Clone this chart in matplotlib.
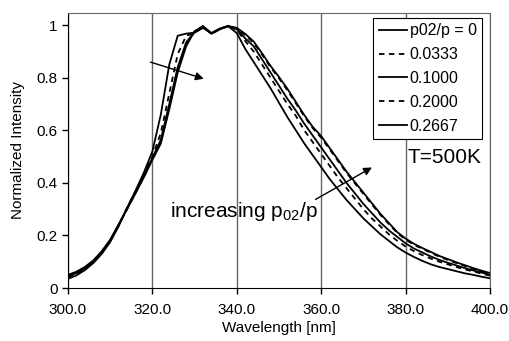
import numpy as np
import matplotlib.pyplot as plt

plt.rcParams['font.family'] = ['Liberation Sans', 'DejaVu Sans']
plt.rcParams['mathtext.default'] = 'regular'

# ----- Data ----- #
wavelength = np.arange(300, 401, 2)  # nm

ratio_labels = ["p02/p = 0", "0.0333", "0.1000", "0.2000", "0.2667"]

# p02/p = 0
int_0 = [0.035, 0.048, 0.068, 0.095, 0.130, 0.175, 0.235, 0.305, 0.370, 0.440,
         0.520, 0.660, 0.850, 0.960, 0.968, 0.972, 0.990, 0.968, 0.985, 0.996,
         0.970, 0.910, 0.860, 0.810, 0.760, 0.705, 0.650, 0.600, 0.550, 0.505,
         0.460, 0.415, 0.375, 0.335, 0.300, 0.265, 0.235, 0.205, 0.180, 0.155,
         0.135, 0.118, 0.103, 0.090, 0.080, 0.072, 0.064, 0.056, 0.050, 0.043,
         0.037]
# p02/p = 0.0333
int_1 = [0.042, 0.054, 0.072, 0.098, 0.133, 0.178, 0.238, 0.305, 0.368, 0.432,
         0.500, 0.590, 0.740, 0.890, 0.960, 0.970, 0.994, 0.970, 0.987, 0.997,
         0.982, 0.940, 0.900, 0.850, 0.800, 0.750, 0.700, 0.655, 0.600, 0.555,
         0.510, 0.465, 0.420, 0.380, 0.340, 0.300, 0.265, 0.235, 0.205, 0.180,
         0.158, 0.140, 0.125, 0.112, 0.100, 0.090, 0.080, 0.071, 0.063, 0.055,
         0.047]
# p02/p = 0.1000
int_2 = [0.045, 0.057, 0.075, 0.100, 0.135, 0.180, 0.240, 0.303, 0.365, 0.428,
         0.495, 0.565, 0.700, 0.840, 0.935, 0.975, 0.996, 0.968, 0.985, 0.998,
         0.985, 0.950, 0.920, 0.870, 0.820, 0.770, 0.720, 0.675, 0.625, 0.580,
         0.535, 0.490, 0.445, 0.400, 0.360, 0.320, 0.285, 0.250, 0.220, 0.195,
         0.170, 0.150, 0.135, 0.120, 0.107, 0.096, 0.086, 0.076, 0.067, 0.059,
         0.050]
# p02/p = 0.2000
int_3 = [0.048, 0.060, 0.078, 0.103, 0.138, 0.182, 0.240, 0.300, 0.362, 0.425,
         0.490, 0.555, 0.690, 0.830, 0.925, 0.975, 0.997, 0.966, 0.986, 0.998,
         0.988, 0.962, 0.932, 0.888, 0.840, 0.798, 0.752, 0.703, 0.653, 0.608,
         0.572, 0.528, 0.483, 0.438, 0.398, 0.358, 0.318, 0.279, 0.244, 0.210,
         0.184, 0.164, 0.149, 0.134, 0.119, 0.107, 0.095, 0.084, 0.073, 0.063,
         0.054]
# p02/p = 0.2667
int_4 = [0.050, 0.062, 0.080, 0.105, 0.140, 0.184, 0.242, 0.300, 0.360, 0.422,
         0.488, 0.550, 0.680, 0.820, 0.920, 0.978, 0.995, 0.970, 0.988, 0.996,
         0.990, 0.967, 0.938, 0.893, 0.845, 0.803, 0.758, 0.708, 0.658, 0.613,
         0.578, 0.533, 0.488, 0.443, 0.403, 0.363, 0.323, 0.283, 0.248, 0.213,
         0.188, 0.168, 0.152, 0.137, 0.122, 0.110, 0.098, 0.087, 0.076, 0.066,
         0.057]

curves = [int_0, int_1, int_2, int_3, int_4]
styles = ["-", (0, (3, 2.5)), "-", (0, (3, 2.5)), "-"]

# ----- Plot ----- #
fig = plt.figure(figsize=(5.1, 3.41), dpi=100)
ax = fig.add_axes([0.1333, 0.1554, 0.8275, 0.8076])

for vals, ls, lab in zip(curves, styles, ratio_labels):
    ax.plot(wavelength, vals, color="black", lw=1.3, ls=ls, label=lab)

ax.set_xlim(300, 400)
ax.set_ylim(0, 1.048)
ax.set_xticks([300, 320, 340, 360, 380, 400])
ax.set_xticklabels(["300.0", "320.0", "340.0", "360.0", "380.0", "400.0"])
ax.set_yticks([0, 0.2, 0.4, 0.6, 0.8, 1.0])
ax.set_yticklabels(["0", "0.2", "0.4", "0.6", "0.8", "1"])
ax.tick_params(direction="out", length=4, width=1, labelsize=11, colors="black")
ax.tick_params(axis="x", pad=7)
ax.xaxis.grid(True, color="#666666", lw=1)
ax.set_axisbelow(True)
for s in ["top", "right"]:
    ax.spines[s].set_color("#666666")

ax.set_xlabel("Wavelength [nm]", fontsize=11, labelpad=3)
ax.set_ylabel("Normalized Intensity", fontsize=11, labelpad=8)

leg = ax.legend(loc="upper right", bbox_to_anchor=(0.981, 0.98), fontsize=11.5,
                frameon=True, fancybox=False, edgecolor="black", framealpha=1,
                handlelength=1.8, handletextpad=0.15, borderpad=0.33,
                labelspacing=0.55, borderaxespad=0)
leg.get_frame().set_linewidth(0.8)

ax.text(380.4, 0.475, "T=500K", fontsize=15)
ax.text(324.2, 0.269, "increasing p$_{02}$/p", fontsize=15)

arrow = dict(arrowstyle="-|>", color="black", lw=1, mutation_scale=12)
ax.annotate("", xy=(332.8, 0.793), xytext=(318.9, 0.863), arrowprops=arrow)
ax.annotate("", xy=(372.6, 0.464), xytext=(358.1, 0.332), arrowprops=arrow)

fig.savefig("out.png", dpi=100)
